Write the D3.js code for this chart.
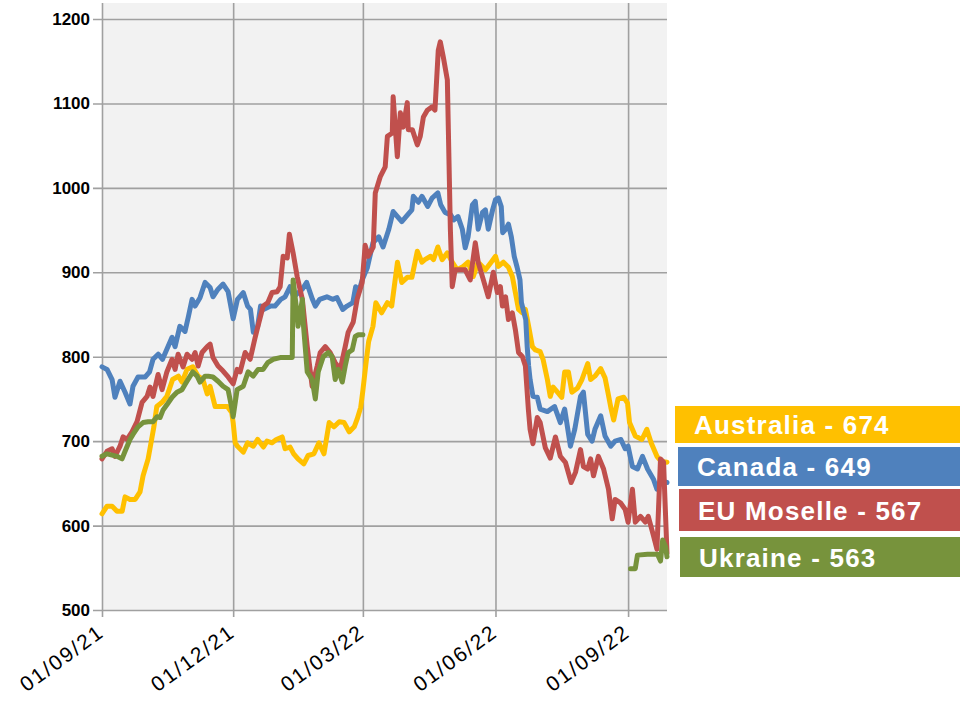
<!DOCTYPE html>
<html>
<head>
<meta charset="utf-8">
<script src="https://cdn.jsdelivr.net/npm/d3@7"></script>
<style>
  body { margin: 0; background: #fff; }
  svg { display: block; }
</style>
</head>
<body>
<script>
// series: [days since 01/09/21, price]
const australia = [[0,614],[3.5,623],[7,623],[10.4,617],[14,617],[16,634],[19.4,631],[23,631],[26.4,640],[28.5,659],[32,679],[34,698],[36,717],[38,741],[41.7,746],[45,753],[49,773],[53,777],[55.5,770],[59,785],[63,788],[66.7,777],[70,773],[73,756],[75,765],[78.5,741],[82,741],[87,741],[90,734],[91,722],[92.4,698],[94,694],[98,687],[101,698],[105,694],[108,702],[112,693],[114.5,700],[118,698],[121,702],[125,705],[127,691],[130.5,693],[133,685],[136,679],[140,673],[143,683],[147,685],[150.5,698],[154,685],[157.6,722],[161,717],[164.6,723],[168,722],[171.5,711],[175,717],[177,726],[179.5,740],[181,760],[183,790],[185,818],[188,836],[190,864],[194,852],[198,864],[201,860],[205,912],[208,888],[211.8,894],[215,894],[218.75,925],[222,912],[224,915],[228,919],[230,915],[233,930],[236,915],[239.6,923],[243,912],[246.5,903],[250.7,907],[254,912],[257.6,895],[261,912],[266,903],[270,912],[273,919],[275,907],[278.5,912],[282,906],[284.7,895],[286.8,876],[289,856],[291.7,852],[293.75,856],[296,836],[298.6,812],[300.7,808],[304,806],[306,797],[309,773],[311,753],[313,764],[316,758],[319,752],[321,782],[323.6,782],[326,758],[330,763],[333,773],[337,792],[339,773],[342,777],[346,786],[349,775],[351,758],[353,740],[355,725],[358,750],[362,752],[364.6,745],[366,722],[370,706],[374.6,702],[378,714],[381,698],[385,682],[388,676],[392,675]]

const canada = [[0,788],[3.5,785],[7,773],[9,752],[12.5,771],[16,758],[19.4,744],[21.5,765],[25,776],[30,776],[33,782],[35.4,797],[39,803],[42,797],[48.6,823],[50.7,812],[54,836],[57.6,830],[60,848],[62.5,868],[64.6,860],[68,870],[71.5,888],[75,882],[77,871],[80.5,880],[84,886],[87.5,877],[91,845],[94,868],[98,876],[101,860],[103,856],[105,829],[108,836],[110,860],[112,856],[117,860],[120,860],[124,868],[127,871],[130.5,883],[133,871],[139,880],[142,888],[146,868],[148,860],[151,868],[156,871],[160,868],[163,870],[167,856],[170,860],[174,864],[176,883],[178,876],[180.5,891],[184,905],[188,935],[192,942],[195,930],[199,951],[202,972],[205,966],[208,960],[212,968],[215,974],[216,990],[219.5,983],[222,990],[226,978],[229,988],[233,994],[235,980],[238,971],[242,968],[244,962],[247,966],[250,951],[252,929],[254,942],[257,980],[259,984],[261,951],[264,971],[266,974],[268,951],[271,974],[273,986],[275,988],[277,978],[278,947],[280,951],[282,957],[284,942],[286,919],[288,906],[290,891],[291,864],[294,844],[295,812],[296,789],[297,773],[299,753],[302,752],[304,738],[309,735],[314,741],[318,722],[321,738],[325,694],[328,714],[332,753],[334,758],[337,708],[340,700],[342,714],[346,730],[349,706],[353,694],[356,700],[360,702],[363,691],[365,694],[368,670],[371.5,667],[375,682],[378.5,667],[382.6,655],[385,643],[387.5,653],[392,651]]

const euMoselle = [[0,679],[3.5,688],[7,691],[9,682],[12.5,694],[14.6,705],[17.4,702],[20.8,711],[24.3,723],[27.8,746],[31.25,753],[33.3,764],[35.4,753],[38.9,779],[41.7,761],[45,782],[48.6,797],[50.7,785],[52.8,803],[56.25,788],[59,803],[62.5,797],[64.6,805],[66.7,789],[69.4,805],[73,812],[75,815],[77,799],[80.5,789],[84,783],[87.5,776],[91,768],[93.75,785],[95.8,782],[99.3,805],[102.8,797],[106,821],[107.6,832],[111.8,860],[115,864],[118,876],[121.5,877],[123.6,883],[125.7,919],[128.5,917],[130,945],[132.6,923],[135.4,895],[139,868],[142.4,812],[145.8,765],[149.3,789],[151.4,805],[154.9,812],[158.3,805],[161.8,793],[165.3,785],[168.75,812],[170.8,829],[174.3,841],[177,868],[180.5,888],[182.6,932],[184.7,919],[188.2,930],[189.6,994],[193,1013],[196.5,1025],[198,1061],[201.4,1065],[202,1108],[204.9,1037],[207,1089],[209,1072],[211.8,1101],[212.5,1069],[215.3,1069],[218.75,1051],[220.8,1061],[223,1084],[225.7,1092],[229,1096],[231,1092],[233.3,1163],[234.7,1173],[236.8,1155],[239.6,1128],[240.3,1069],[241.7,951],[243,883],[245,903],[248.6,903],[252,903],[255.5,891],[259,935],[261,912],[264.6,891],[268,871],[271.5,900],[274.3,876],[276.4,883],[277.8,860],[280,871],[282,844],[284.7,852],[286.8,832],[289,805],[291.7,800],[293.75,789],[295.8,738],[297,714],[299,697],[302,728],[304,722],[307.6,692],[311,680],[314.6,705],[318,682],[321.5,675],[325.5,651],[328.5,663],[332,690],[334,670],[337,667],[339,679],[341,659],[344.4,682],[348,667],[351.4,643],[354,608],[356,631],[359.7,627],[363,619],[365,604],[368,643],[370,604],[373.6,611],[377,604],[379,611],[382.6,588],[385,572],[387.5,679],[389.6,675],[392,567]]

const ukraine = [[0,682],[3.5,685],[10.4,682],[13.9,679],[16,688],[19.4,702],[21.5,708],[25,717],[28.5,722],[32,723],[35.4,723],[38.2,729],[40.3,728],[42.4,737],[45,743],[48.6,752],[52,758],[55.5,761],[57.6,767],[59.7,773],[63,782],[66,777],[68,770],[71.5,777],[73.6,777],[77,776],[80.5,771],[84,765],[87.5,761],[90.3,737],[91,729],[93.75,761],[98,765],[101.4,782],[104.9,777],[108.3,785],[111.8,785],[115,793],[118.75,797],[123.6,799],[132,799],[132.6,891],[135.4,850],[136,836],[139,868],[139.6,841],[142.4,782],[145.8,773],[148,750],[150,782],[153.5,800],[157,805],[159.7,800],[161.8,773],[163.9,785],[166.7,770],[168.75,789],[170.8,805],[173.6,808],[175.7,824],[177.8,826],[181,826],[270,null],[366.7,549],[370,549],[371.5,565],[378.5,566],[385.4,566],[387.5,558],[389,583],[391,575],[392,563]]

const seriesNames = ['Australia', 'Canada', 'EU Moselle', 'Ukraine']
const seriesData = [australia, canada, euMoselle, ukraine]
const seriesColors = ['#ffc000', '#4f81bd', '#c0504d', '#77933c']
const latestPrice = [674, 649, 567, 563]

const yTicks = [500, 600, 700, 800, 900, 1000, 1100, 1200]
const xTicks = ['2021-09-01', '2021-12-01', '2022-03-01', '2022-06-01', '2022-09-01']

const w = 960
const h = 703
const pLeft = 102
const pRight = 667
const pTop = 3
const pBottom = 610

const start = new Date(2021, 8, 1)
const toDate = d => new Date(start.getTime() + d * 864e5)
const parse = d3.timeParse('%Y-%m-%d')

const xScale = d3.scaleTime()
    .domain([start, new Date(2022, 8, 28)])
    .range([pLeft, pRight])

const yScale = d3.scaleLinear()
    .domain([500, 1219])
    .range([pBottom, pTop])

const svg = d3.select('body')
    .append('svg')
    .attr('width', w)
    .attr('height', h)

// plot background
svg.append('rect')
    .attr('x', pLeft)
    .attr('y', pTop)
    .attr('width', pRight - pLeft)
    .attr('height', pBottom - pTop)
    .attr('fill', '#f2f2f2')

// horizontal grid + outer ticks + labels
const yAxis = svg.append('g')
    .attr('transform', `translate(${pLeft},0)`)
    .call(d3.axisLeft(yScale)
        .tickValues(yTicks)
        .tickSize(9)
        .tickPadding(3)
        .tickFormat(d3.format('d')))
yAxis.select('.domain').remove()
yAxis.selectAll('.tick line')
    .attr('x2', pRight - pLeft)
    .attr('x1', -9)
    .attr('stroke', '#a0a0a0')
    .attr('stroke-width', 1.6)
yAxis.selectAll('.tick text')
    .attr('font-family', 'Liberation Sans, Arial, sans-serif')
    .attr('font-weight', 'bold')
    .attr('font-size', 17)
    .attr('fill', '#000')

// vertical grid + ticks + date labels
const xAxis = svg.append('g')
    .attr('transform', `translate(0,${pBottom})`)
    .call(d3.axisBottom(xScale)
        .tickValues(xTicks.map(parse))
        .tickSize(7)
        .tickFormat(d3.timeFormat('%d/%m/%y')))
xAxis.select('.domain').remove()
xAxis.selectAll('.tick line')
    .attr('y1', -(pBottom - pTop))
    .attr('y2', 7)
    .attr('stroke', '#a0a0a0')
    .attr('stroke-width', 1.6)
xAxis.selectAll('.tick text')
    .attr('font-family', 'Liberation Sans, Arial, sans-serif')
    .attr('font-size', 21)
    .attr('letter-spacing', 2)
    .attr('fill', '#000')
    .attr('text-anchor', 'end')
    .attr('dy', 0)
    .attr('y', 0)
    .attr('transform', 'translate(3,25) rotate(-36)')

// lines
const line = d3.line()
    .defined(d => d[1] != null)
    .x(d => xScale(toDate(d[0])))
    .y(d => yScale(d[1]))

svg.selectAll('path.series')
    .data(seriesData)
    .enter()
    .append('path')
    .attr('class', 'series')
    .attr('d', line)
    .attr('fill', 'none')
    .attr('stroke', (d, i) => seriesColors[i])
    .attr('stroke-width', 5)
    .attr('stroke-linejoin', 'round')
    .attr('stroke-linecap', 'round')

// legend boxes on the right
const boxTop = [406, 447, 489, 537]
const boxBottom = [443, 486, 531, 577]
const boxLeft = [675, 678, 679, 680]

const legend = svg.selectAll('g.legend')
    .data(seriesNames)
    .enter()
    .append('g')
    .attr('class', 'legend')

legend.append('rect')
    .attr('x', (d, i) => boxLeft[i])
    .attr('y', (d, i) => boxTop[i])
    .attr('width', (d, i) => w - boxLeft[i])
    .attr('height', (d, i) => boxBottom[i] - boxTop[i])
    .attr('fill', (d, i) => seriesColors[i])

legend.append('text')
    .attr('x', (d, i) => boxLeft[i] + 19)
    .attr('y', (d, i) => (boxTop[i] + boxBottom[i]) / 2 + 9.5)
    .attr('font-family', 'Liberation Sans, Arial, sans-serif')
    .attr('font-weight', 'bold')
    .attr('font-size', 26)
    .attr('letter-spacing', 1.2)
    .attr('fill', '#fff')
    .text((d, i) => `${d} - ${latestPrice[i]}`)
</script>
</body>
</html>
